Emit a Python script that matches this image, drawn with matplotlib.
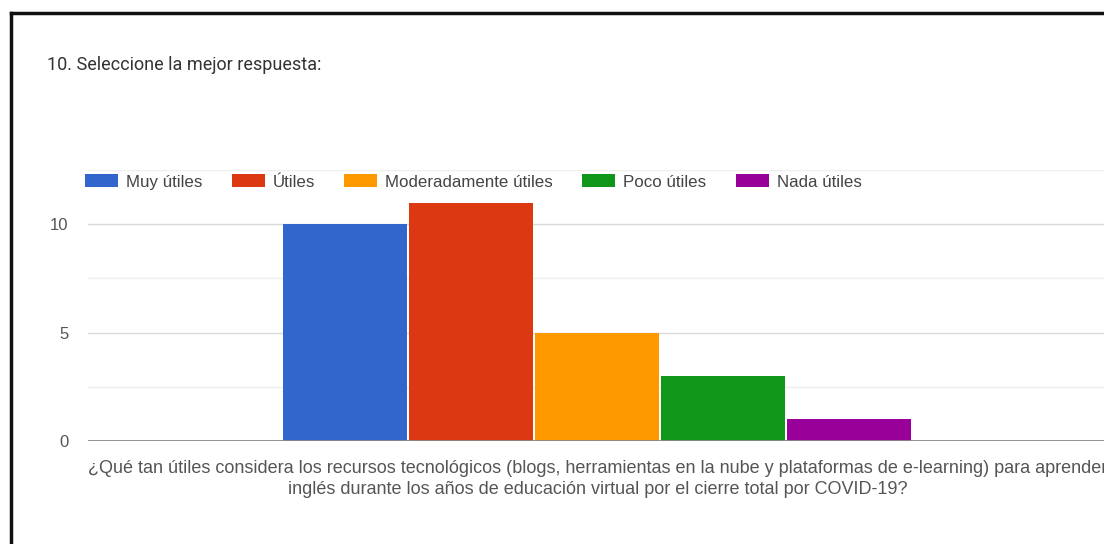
import matplotlib
matplotlib.use("Agg")
import matplotlib.pyplot as plt
from matplotlib.lines import Line2D

# Survey answers for question 10
categories = ["Muy útiles", "Útiles", "Moderadamente útiles", "Poco útiles", "Nada útiles"]
counts = [10, 11, 5, 3, 1]
colors = ["#3366CC", "#DC3912", "#FF9900", "#109618", "#990099"]
y_ticks = [0, 5, 10]
y_minor = [2.5, 7.5, 12.5]
title = "10. Seleccione la mejor respuesta:"
question = ("¿Qué tan útiles considera los recursos tecnológicos (blogs, herramientas en la nube y "
            "plataformas de e-learning) para aprender\ninglés durante los años de educación virtual "
            "por el cierre total por COVID-19?")

W, H = 1104, 544
fig = plt.figure(figsize=(W / 100, H / 100), dpi=100)
fig.patch.set_facecolor("white")

def fx(px):
    return px / W

def fy(py):
    return 1 - py / H

# plot area in pixel terms
left, right, top, bottom = 88, 1106, 170, 441
ax = fig.add_axes([fx(left), fy(bottom), fx(right - left), fy(top) - fy(bottom)])
ax.set_ylim(0, 12.5)
half = (right - left) / 2 / 126.0
ax.set_xlim(-half, half)

n = len(categories)
for i, (cat, val, col) in enumerate(zip(categories, counts, colors)):
    ax.bar(i - (n - 1) / 2, val, width=0.99, color=col, label=cat, zorder=3, linewidth=0)

for v in y_ticks[1:]:
    ax.axhline(v, color="#dadada", lw=1.0, zorder=1)
for v in y_minor:
    ax.axhline(v, color="#efefef", lw=1.0, zorder=1)
ax.axhline(0, color="#8a8a8a", lw=1.3, zorder=4)

for s in ax.spines.values():
    s.set_visible(False)
ax.set_xticks([])
ax.set_yticks(y_ticks)
ax.set_yticklabels([str(t) for t in y_ticks], fontsize=12, color="#555555",
                   family="Liberation Sans")
ax.tick_params(axis="y", length=0, pad=14)

fig.text(fx(47), fy(65), title, fontsize=13, color="#333333", family="Roboto",
         va="center", ha="left")

fig.text(fx(598), fy(479), question, fontsize=13, color="#555555", family="Liberation Sans",
         ha="center", va="center", linespacing=1.3)

leg = fig.legend(loc="center left", bbox_to_anchor=(fx(85), fy(182)), ncol=5, frameon=False,
                 prop={"family": "Liberation Sans", "size": 12.2}, borderpad=0, borderaxespad=0,
                 handlelength=1.95, handleheight=0.8, handletextpad=0.45, columnspacing=1.75,
                 labelcolor="#444444")

# outer frame (left and top edges)
fig.add_artist(Line2D([fx(11), fx(11)], [fy(13), fy(544)], color="#111111", lw=2.5,
                      transform=fig.transFigure))
fig.add_artist(Line2D([fx(11), fx(1104)], [fy(13), fy(13)], color="#111111", lw=2.5,
                      transform=fig.transFigure))

fig.savefig("out.png", dpi=100, facecolor="white")
